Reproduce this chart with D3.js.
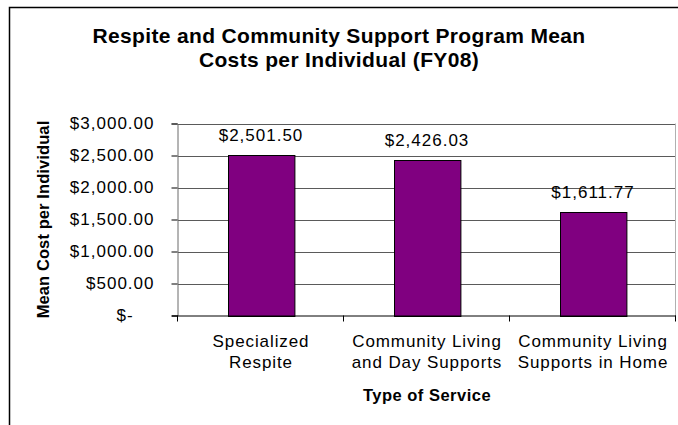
<!DOCTYPE html>
<html>
<head>
<meta charset="utf-8">
<script src="https://cdn.jsdelivr.net/npm/d3@7"></script>
<style>
  html, body { margin: 0; padding: 0; background: #fff; }
  svg { display: block; }
  text { font-family: "Liberation Sans", Arial, sans-serif; fill: #000; }
</style>
</head>
<body>
<svg id="chart" width="678" height="425"></svg>
<script>
// Mean cost per individual by service type, FY08
const categories = [
  ["Specialized", "Respite"],
  ["Community Living", "and Day Supports"],
  ["Community Living", "Supports in Home"]
];
const meanCosts = [2501.50, 2426.03, 1611.77];
const yTicks = [0, 500, 1000, 1500, 2000, 2500, 3000];
const titleLines = [
  "Respite and Community Support Program Mean",
  "Costs per Individual (FY08)"
];
const yAxisTitle = "Mean Cost per Individual";
const xAxisTitle = "Type of Service";

const W = 678, H = 425;
const plot = { left: 178, right: 676, top: 123.5, bottom: 315.5 };

const svg = d3.select("#chart");

// Outer chart frame (top and left edges visible)
svg.append("path")
  .attr("d", `M9.5,${H} V7.5 H${W}`)
  .attr("fill", "none")
  .attr("stroke", "#000")
  .attr("stroke-width", 1.5);

// Title
svg.append("g").selectAll("text")
  .data(titleLines)
  .join("text")
  .attr("x", 339)
  .attr("y", (d, i) => 42.5 + i * 24)
  .attr("text-anchor", "middle")
  .style("font-size", "21px")
  .style("font-weight", "bold")
  .style("letter-spacing", "0.35px")
  .text(d => d);

const keys = categories.map((c, i) => i);
const x = d3.scaleBand()
  .domain(keys)
  .range([plot.left, plot.right])
  .paddingInner(0.6)
  .paddingOuter(0.3);

const y = d3.scaleLinear()
  .domain([0, 3000])
  .range([plot.bottom, plot.top]);

// Horizontal gridlines
svg.append("g").selectAll("line")
  .data(yTicks.filter(v => v > 0))
  .join("line")
  .attr("x1", plot.left)
  .attr("x2", plot.right)
  .attr("y1", d => Math.round(y(d)) + 0.5)
  .attr("y2", d => Math.round(y(d)) + 0.5)
  .attr("stroke", "#5a5a5a")
  .attr("stroke-width", 1);

// Plot area right edge
svg.append("line")
  .attr("x1", plot.right - 0.5).attr("x2", plot.right - 0.5)
  .attr("y1", plot.top).attr("y2", plot.bottom)
  .attr("stroke", "#b0b0b0");

// Bars
svg.append("g").selectAll("rect")
  .data(meanCosts)
  .join("rect")
  .attr("x", (d, i) => Math.round(x(i)) + 0.5)
  .attr("y", d => Math.round(y(d)) + 0.5)
  .attr("width", x.bandwidth())
  .attr("height", d => Math.round(y(0)) - Math.round(y(d)))
  .attr("fill", "#800080")
  .attr("stroke", "#000")
  .attr("stroke-width", 1);

// Value labels
const money = d3.format("$,.2f");
svg.append("g").selectAll("text")
  .data(meanCosts)
  .join("text")
  .attr("x", (d, i) => x(i) + x.bandwidth() / 2)
  .attr("y", d => y(d) - 14)
  .attr("text-anchor", "middle")
  .style("font-size", "17px")
  .style("letter-spacing", "1px")
  .text(d => money(d));

// Y axis
const yAxis = d3.axisLeft(y)
  .tickValues(yTicks)
  .tickSize(6)
  .tickPadding(17)
  .tickFormat(v => v === 0 ? "$-\u2007\u2007" : money(v));

const gy = svg.append("g")
  .attr("transform", `translate(${plot.left - 0.5},0)`)
  .call(yAxis);
gy.select(".domain").attr("stroke", "#6a6a6a");
gy.selectAll(".tick line").attr("stroke", "#000");
gy.selectAll(".tick text")
  .attr("fill", "#000")
  .style("font-family", "'Liberation Sans', Arial, sans-serif")
  .style("font-size", "17px")
  .style("letter-spacing", "1px");

// X axis baseline with ticks at category boundaries
const half = (x.step() - x.bandwidth()) / 2;
const bounds = keys.map(k => x(k) - half).concat([plot.right]);
svg.append("line")
  .attr("x1", plot.left - 6).attr("x2", plot.right)
  .attr("y1", plot.bottom + 0.5).attr("y2", plot.bottom + 0.5)
  .attr("stroke", "#000");
svg.append("g").selectAll("line")
  .data(bounds)
  .join("line")
  .attr("x1", d => Math.round(d) - 0.5)
  .attr("x2", d => Math.round(d) - 0.5)
  .attr("y1", plot.bottom)
  .attr("y2", plot.bottom + 6)
  .attr("stroke", "#000");

// Category labels (two lines each)
const catText = svg.append("g").selectAll("text")
  .data(categories)
  .join("text")
  .attr("text-anchor", "middle")
  .style("font-size", "17px")
  .style("letter-spacing", "0.9px");
catText.selectAll("tspan")
  .data((d, i) => d.map(line => ({ line, i })))
  .join("tspan")
  .attr("x", d => x(d.i) + x.bandwidth() / 2)
  .attr("y", (d, j) => plot.bottom + 31 + j * 21)
  .text(d => d.line);

// Axis titles
svg.append("text")
  .attr("x", (plot.left + plot.right) / 2)
  .attr("y", 401)
  .attr("text-anchor", "middle")
  .style("font-size", "16.5px")
  .style("font-weight", "bold")
  .style("letter-spacing", "0.5px")
  .text(xAxisTitle);

svg.append("text")
  .attr("transform", `translate(49,${(plot.top + plot.bottom) / 2}) rotate(-90)`)
  .attr("text-anchor", "middle")
  .style("font-size", "16.5px")
  .style("font-weight", "bold")
  .style("letter-spacing", "0.1px")
  .text(yAxisTitle);
</script>
</body>
</html>
